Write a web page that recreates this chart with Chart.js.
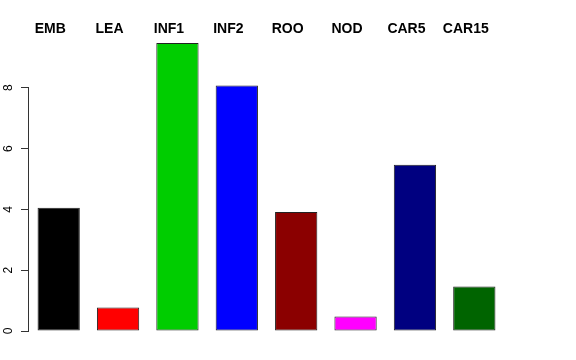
<!DOCTYPE html>
<html>
<head>
<meta charset="utf-8">
<script src="https://cdn.jsdelivr.net/npm/chart.js@4"></script>
<style>
  html, body { margin: 0; padding: 0; background: #fff; }
  #wrap { width: 576px; height: 360px; }
</style>
</head>
<body>
<div id="wrap"><canvas id="barChart"></canvas></div>
<script>
'use strict';

const tissues = ['EMB', 'LEA', 'INF1', 'INF2', 'ROO', 'NOD', 'CAR5', 'CAR15'];
const values = [4.05, 0.77, 9.47, 8.07, 3.91, 0.48, 5.47, 1.46];
const barColors = ['#000000', '#ff0000', '#00cd00', '#0000ff', '#8b0000', '#ff00ff', '#000080', '#006400'];
const yTicks = [0, 2, 4, 6, 8];

const fontFamily = '"Liberation Sans", Arial, Helvetica, sans-serif';

// R style y axis: line only spans the first to last tick
const axisLine = {
  id: 'axisLine',
  afterDraw(chart) {
    const y = chart.scales.y;
    const c = chart.ctx;
    const x = Math.round(y.right) - 0.5;
    c.save();
    c.strokeStyle = '#333';
    c.lineWidth = 1;
    c.beginPath();
    c.moveTo(x, y.getPixelForValue(yTicks[0]) + 0.5);
    c.lineTo(x, y.getPixelForValue(yTicks[yTicks.length - 1]) - 0.5);
    c.stroke();
    c.restore();
  },
};

const ctx = document.getElementById('barChart').getContext('2d');

new Chart(ctx, {
  type: 'bar',
  data: {
    labels: tissues,
    datasets: [
      {
        data: values,
        backgroundColor: barColors,
        borderColor: '#222',
        borderWidth: 1,
        borderSkipped: false,
        barPercentage: 0.712,
        categoryPercentage: 1,
      },
    ],
  },
  options: {
    responsive: true,
    maintainAspectRatio: false,
    animation: false,
    events: [],
    layout: {
      padding: { left: 0, right: 72, top: 0, bottom: 29 },
    },
    scales: {
      x: {
        position: 'top',
        grid: { display: false, drawTicks: false },
        border: { display: false },
        ticks: {
          color: '#000',
          font: { family: fontFamily, size: 14, weight: 'bold' },
          labelOffset: -8.5,
          padding: 2,
          maxRotation: 0,
          autoSkip: false,
        },
        afterFit: (scale) => {
          scale.height = 40;
        },
      },
      y: {
        min: 0,
        max: 9.57,
        afterBuildTicks: (scale) => {
          scale.ticks = yTicks.map((v) => ({ value: v }));
        },
        grid: {
          drawOnChartArea: false,
          drawTicks: true,
          tickLength: 8,
          color: '#333',
          lineWidth: 1,
        },
        border: { display: false },
        ticks: {
          color: '#000',
          font: { family: fontFamily, size: 12 },
          minRotation: 90,
          maxRotation: 90,
          crossAlign: 'center',
          padding: 9,
        },
        afterFit: (scale) => {
          scale.width = 29;
        },
      },
    },
    plugins: {
      legend: { display: false },
      tooltip: { enabled: false },
    },
  },
  plugins: [axisLine],
});
</script>
</body>
</html>
